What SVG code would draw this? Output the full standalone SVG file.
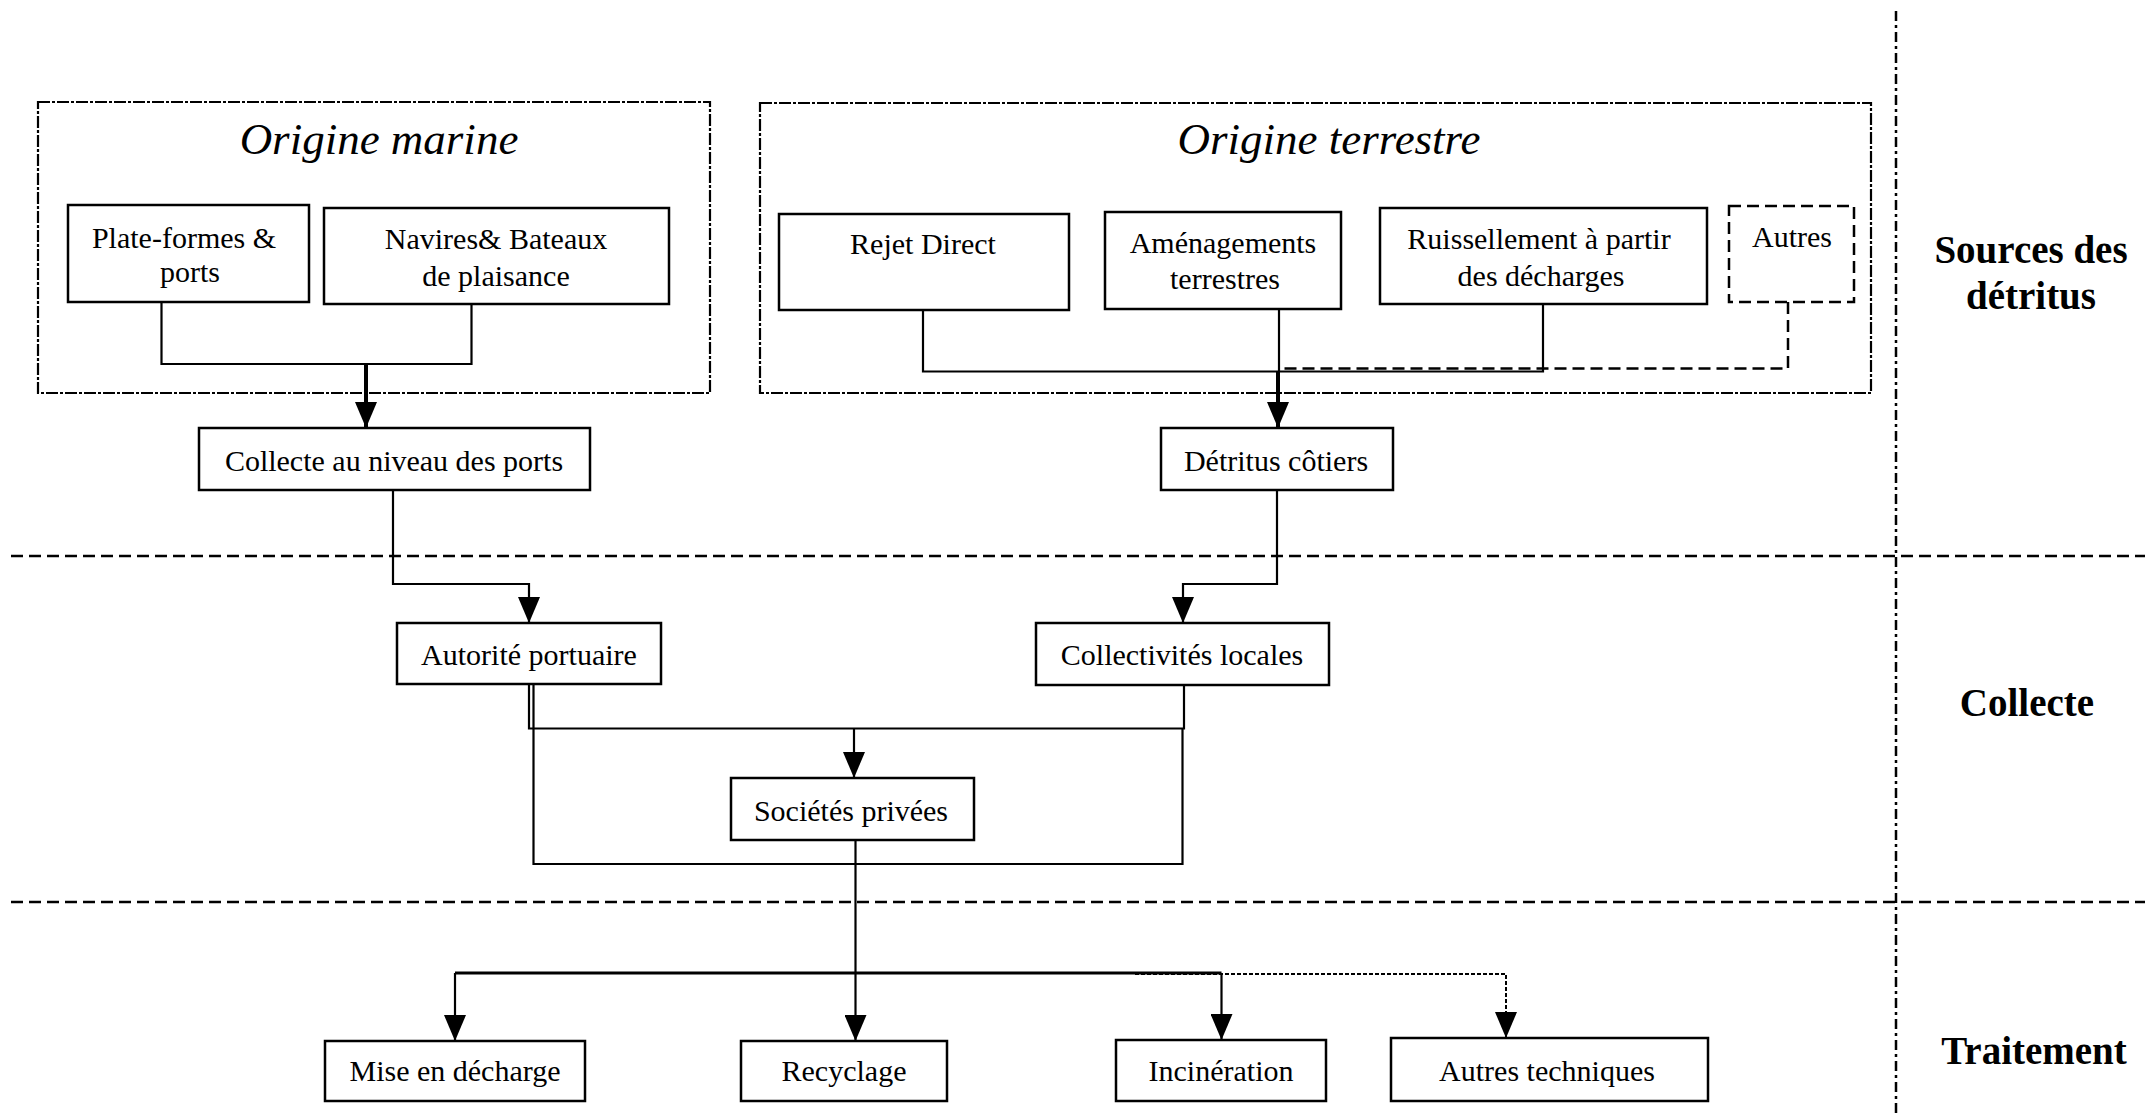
<svg xmlns="http://www.w3.org/2000/svg" width="2145" height="1117" viewBox="0 0 2145 1117">
<style>
  .box { fill: #fff; stroke: #000; stroke-width: 2.5; }
  .dbox { fill: #fff; stroke: #000; stroke-width: 2.5; stroke-dasharray: 12 6; }
  .grp { fill: none; stroke: #000; stroke-width: 2.2; stroke-dasharray: 12 2 3 2; }
  .t { font-family: "Liberation Serif", "Times New Roman", serif; font-size: 30px; fill: #000; text-anchor: middle; }
  .title { font-family: "Liberation Serif", "Times New Roman", serif; font-size: 45px; font-style: italic; fill: #000; text-anchor: middle; }
  .lab { font-family: "Liberation Serif", "Times New Roman", serif; font-size: 39px; font-weight: bold; fill: #000; text-anchor: middle; }
  .c { fill: none; stroke: #000; stroke-width: 2.2; }
  .thick { fill: none; stroke: #000; stroke-width: 4; }
  .dash { fill: none; stroke: #000; stroke-width: 2.5; stroke-dasharray: 12 6; }
  .dot { fill: none; stroke: #000; stroke-width: 2; stroke-dasharray: 4 2; }
  .sep { fill: none; stroke: #000; stroke-width: 2.5; stroke-dasharray: 12 6; }
  .vsep { fill: none; stroke: #000; stroke-width: 2.5; stroke-dasharray: 10 4 3 4; }
</style>
<defs>
  <marker id="arr" markerUnits="userSpaceOnUse" markerWidth="26" markerHeight="22" refX="26" refY="11" orient="auto">
    <path d="M0,0 L26,11 L0,22 z" fill="#000"/>
  </marker>
</defs>
<rect width="2145" height="1117" fill="#fff"/>

<g id="separators">
  <line class="sep" x1="11" y1="556" x2="2145" y2="556"/>
  <line class="sep" x1="11" y1="902" x2="2145" y2="902"/>
  <line class="vsep" x1="1896" y1="11" x2="1896" y2="1117"/>
</g>

<g id="stage-labels">
  <text class="lab" x="2031" y="263">Sources des</text>
  <text class="lab" x="2031" y="309">détritus</text>
  <text class="lab" x="2027" y="716">Collecte</text>
  <text class="lab" x="2034" y="1064">Traitement</text>
</g>

<g id="origine-marine">
  <rect class="grp" x="38" y="102" width="672" height="291"/>
  <text class="title" x="379" y="154">Origine marine</text>
</g>
<g id="origine-terrestre">
  <rect class="grp" x="760" y="103" width="1111" height="290"/>
  <text class="title" x="1329" y="154">Origine terrestre</text>
</g>

<g id="connectors">
  <polyline class="c" points="161.5,302 161.5,364 471.5,364 471.5,304"/>
  <line class="thick" x1="366" y1="364" x2="366" y2="428" marker-end="url(#arr)"/>
  <polyline class="c" points="393,490 393,584 529,584 529,623" marker-end="url(#arr)"/>

  <polyline class="dash" points="1788,302 1788,368.5 1279,368.5"/>
  <polyline class="c" points="923,310 923,371.5 1543,371.5 1543,304"/>
  <line class="c" x1="1279" y1="309" x2="1279" y2="371.5"/>
  <line class="thick" x1="1278" y1="371" x2="1278" y2="428" marker-end="url(#arr)"/>
  <polyline class="c" points="1277,490 1277,584 1183,584 1183,623" marker-end="url(#arr)"/>

  <polyline class="c" points="529,684 529,728.5 1184,728.5 1184,685"/>
  <line class="c" x1="854" y1="728.5" x2="854" y2="778" marker-end="url(#arr)"/>
  <polyline class="c" points="533.5,684 533.5,864 1182.5,864 1182.5,728"/>
  <line class="c" x1="855.5" y1="840" x2="855.5" y2="1041" marker-end="url(#arr)"/>

  <line class="c" x1="455" y1="973" x2="1221.5" y2="973" style="stroke-width:3"/>
  <line class="c" x1="455" y1="973" x2="455" y2="1041" marker-end="url(#arr)"/>
  <line class="c" x1="1221.5" y1="973" x2="1221.5" y2="1040" marker-end="url(#arr)"/>
  <polyline class="dot" points="1135,974 1506,974 1506,1038" marker-end="url(#arr)"/>
</g>

<g id="plate-formes">
  <rect class="box" x="68" y="205" width="241" height="97"/>
  <text class="t" x="184" y="248">Plate-formes &amp;</text>
  <text class="t" x="190" y="282">ports</text>
</g>
<g id="navires">
  <rect class="box" x="324" y="208" width="345" height="96"/>
  <text class="t" x="496" y="249">Navires&amp; Bateaux</text>
  <text class="t" x="496" y="286">de plaisance</text>
</g>
<g id="collecte-ports">
  <rect class="box" x="199" y="428" width="391" height="62"/>
  <text class="t" x="394" y="471">Collecte au niveau des ports</text>
</g>
<g id="rejet-direct">
  <rect class="box" x="779" y="214" width="290" height="96"/>
  <text class="t" x="923" y="254">Rejet Direct</text>
</g>
<g id="amenagements">
  <rect class="box" x="1105" y="212" width="236" height="97"/>
  <text class="t" x="1223" y="253">Aménagements</text>
  <text class="t" x="1225" y="289">terrestres</text>
</g>
<g id="ruissellement">
  <rect class="box" x="1380" y="208" width="327" height="96"/>
  <text class="t" x="1539" y="249">Ruissellement à partir</text>
  <text class="t" x="1541" y="286">des décharges</text>
</g>
<g id="autres">
  <rect class="dbox" x="1729" y="206" width="125" height="96"/>
  <text class="t" x="1792" y="247">Autres</text>
</g>
<g id="detritus-cotiers">
  <rect class="box" x="1161" y="428" width="232" height="62"/>
  <text class="t" x="1276" y="471">Détritus côtiers</text>
</g>
<g id="autorite-portuaire">
  <rect class="box" x="397" y="623" width="264" height="61"/>
  <text class="t" x="529" y="665">Autorité portuaire</text>
</g>
<g id="collectivites-locales">
  <rect class="box" x="1036" y="623" width="293" height="62"/>
  <text class="t" x="1182" y="665">Collectivités locales</text>
</g>
<g id="societes-privees">
  <rect class="box" x="731" y="778" width="243" height="62"/>
  <text class="t" x="851" y="821">Sociétés privées</text>
</g>
<g id="mise-en-decharge">
  <rect class="box" x="325" y="1041" width="260" height="60"/>
  <text class="t" x="455" y="1081">Mise en décharge</text>
</g>
<g id="recyclage">
  <rect class="box" x="741" y="1041" width="206" height="60"/>
  <text class="t" x="844" y="1081">Recyclage</text>
</g>
<g id="incineration">
  <rect class="box" x="1116" y="1040" width="210" height="61"/>
  <text class="t" x="1221" y="1081">Incinération</text>
</g>
<g id="autres-techniques">
  <rect class="box" x="1391" y="1038" width="317" height="63"/>
  <text class="t" x="1547" y="1081">Autres techniques</text>
</g>
</svg>
